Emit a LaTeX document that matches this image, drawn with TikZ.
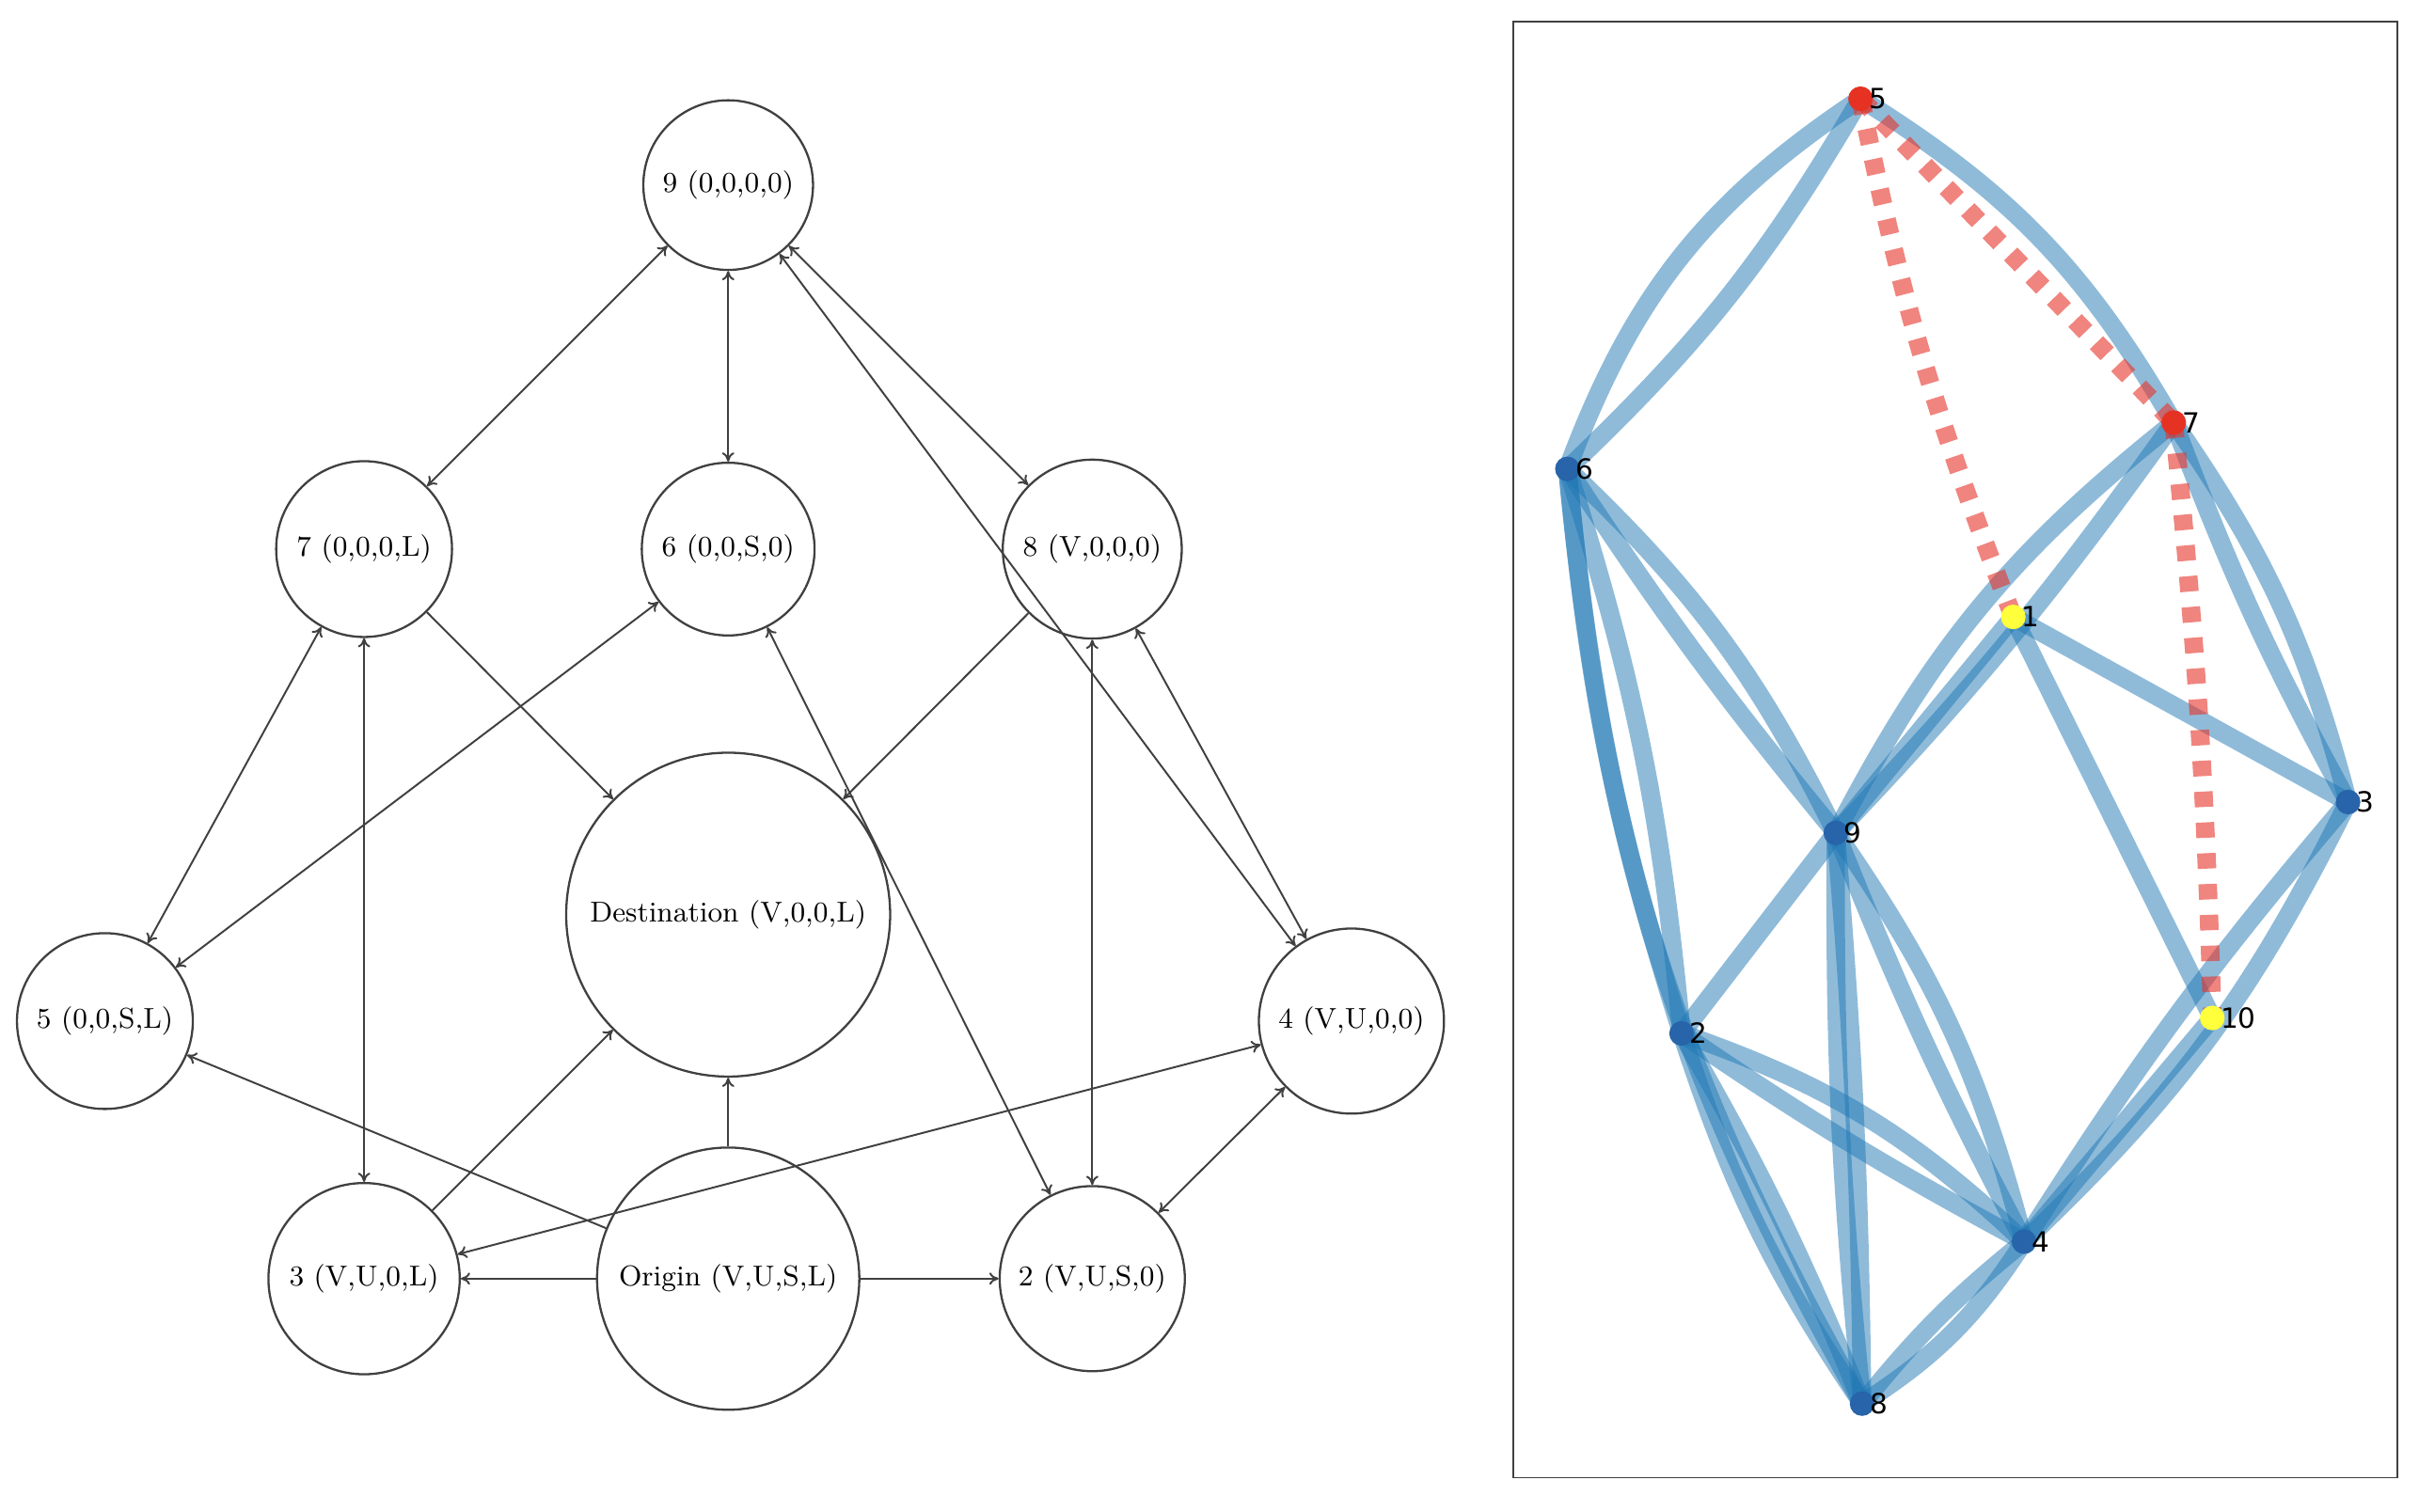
\documentclass[tikz,border=0pt]{standalone}
\usepackage{fontspec}
\usetikzlibrary{arrows.meta,calc}
\newfontfamily\sansf{DejaVu Sans}
\begin{document}
\begin{tikzpicture}[x=0.5pt,y=-0.5pt,>={To[length=3pt,width=4pt]},
  st/.style={circle,draw=black!75,line width=0.7pt,inner sep=0pt,font=\fontsize{9.3}{11}\selectfont},
  ed/.style={draw=black!75,line width=0.6pt},
  bl/.style={draw={rgb,255:red,31;green,119;blue,180},draw opacity=0.5,line width=6pt},
  rd/.style={draw={rgb,255:red,230;green,50;blue,40},draw opacity=0.6,line width=6pt,dash pattern=on 5pt off 5pt},
  pt/.style={circle,inner sep=0pt,minimum size=8pt,fill={rgb,255:red,40;green,100;blue,170}},
  lb/.style={font=\sansf\fontsize{9}{10}\selectfont,inner sep=0pt,anchor=west}]
\useasboundingbox (0,0) rectangle (1568,980);
% left graph
\node[st,minimum size=55pt] (n9) at (472,120) {9 (0,0,0,0)};
\node[st,minimum size=57pt] (n7) at (236,356) {7 (0,0,0,L)};
\node[st,minimum size=56pt] (n6) at (472,356) {6 (0,0,S,0)};
\node[st,minimum size=58pt] (n8) at (708,356) {8 (V,0,0,0)};
\node[st,minimum size=57pt] (n5) at (68,662) {5 (0,0,S,L)};
\node[st,minimum size=105pt] (nd) at (472,593) {Destination (V,0,0,L)};
\node[st,minimum size=60pt] (n4) at (876,662) {4 (V,U,0,0)};
\node[st,minimum size=62pt] (n3) at (236,829) {3 (V,U,0,L)};
\node[st,minimum size=85pt] (no) at (472,829) {Origin (V,U,S,L)};
\node[st,minimum size=60pt] (n2) at (708,829) {2 (V,U,S,0)};
\draw[ed,<->] (n9) -- (n7);
\draw[ed,<->] (n9) -- (n6);
\draw[ed,<->] (n9) -- (n8);
\draw[ed,<->] (n9) -- (n4);
\draw[ed,<->] (n8) -- (n4);
\draw[ed,->] (n7) -- (nd);
\draw[ed,->] (n8) -- (nd);
\draw[ed,<->] (n7) -- (n5);
\draw[ed,<->] (n7) -- (n3);
\draw[ed,<->] (n6) -- (n5);
\draw[ed,<->] (n6) -- (n2);
\draw[ed,<->] (n8) -- (n2);
\draw[ed,<->] (n4) -- (n2);
\draw[ed,<->] (n3) -- (n4);
\draw[ed,->] (no) -- (n5);
\draw[ed,->] (no) -- (n3);
\draw[ed,->] (no) -- (n2);
\draw[ed,->] (no) -- (nd);
\draw[ed,->] (n3) -- (nd);
% right panel
\draw[black!75,line width=0.5pt] (981,14) rectangle (1554,958);
\coordinate (r5) at (1206,64);
\coordinate (r7) at (1409,274);
\coordinate (r6) at (1016,304);
\coordinate (r1) at (1305,400);
\coordinate (r3) at (1522,520);
\coordinate (r9) at (1190,540);
\coordinate (r2) at (1090,670);
\coordinate (r10) at (1434,660);
\coordinate (r4) at (1312,805);
\coordinate (r8) at (1207,910);
\draw[bl] (r6) to[bend left=18] (r5);
\draw[bl] (r6) to[bend right=8] (r5);
\draw[bl] (r5) to[bend left=14] (r7);
\draw[bl] (r6) to[bend left=10] (r9);
\draw[bl] (r6) to[bend right=3] (r9);
\draw[bl] (r6) to[bend left=6] (r2);
\draw[bl] (r6) to[bend right=6] (r2);
\draw[bl] (r6) to[bend right=12] (r8);
\draw[bl] (r9) to[bend left=12] (r7);
\draw[bl] (r9) to[bend right=4] (r7);
\draw[bl] (r1) -- (r9);
\draw[bl] (r7) to[bend left=10] (r3);
\draw[bl] (r7) to[bend right=4] (r3);
\draw[bl] (r1) -- (r3);
\draw[bl] (r1) -- (r10);
\draw[bl] (r3) to[bend left=10] (r4);
\draw[bl] (r3) to[bend right=4] (r4);
\draw[bl] (r10) -- (r4);
\draw[bl] (r9) -- (r2);
\draw[bl] (r9) to[bend left=2] (r8);
\draw[bl] (r9) to[bend right=3] (r8);
\draw[bl] (r9) to[bend left=10] (r4);
\draw[bl] (r9) to[bend right=3] (r4);
\draw[bl] (r2) to[bend left=12] (r4);
\draw[bl] (r2) to[bend right=3] (r4);
\draw[bl] (r2) to[bend left=4] (r8);
\draw[bl] (r2) to[bend right=8] (r8);
\draw[bl] (r8) to[bend left=6] (r4);
\draw[bl] (r8) to[bend right=12] (r4);
\draw[rd] (r5) to[bend right=5] (r1);
\draw[rd] (r5) -- (r7);
\draw[rd] (r7) to[bend left=2] (r10);
\foreach \n in {6,3,9,2,4,8}{\node[pt] (p\n) at (r\n) {};}
\node[pt,fill={rgb,255:red,230;green,50;blue,35}] (p5) at (r5) {};
\node[pt,fill={rgb,255:red,230;green,50;blue,35}] (p7) at (r7) {};
\node[pt,fill={rgb,255:red,255;green,255;blue,60}] (p1) at (r1) {};
\node[pt,fill={rgb,255:red,255;green,255;blue,60}] (p10) at (r10) {};
\foreach \n in {1,...,10}{\node[lb] at ($(r\n)+(5,0)$) {\n};}
\end{tikzpicture}
\end{document}
